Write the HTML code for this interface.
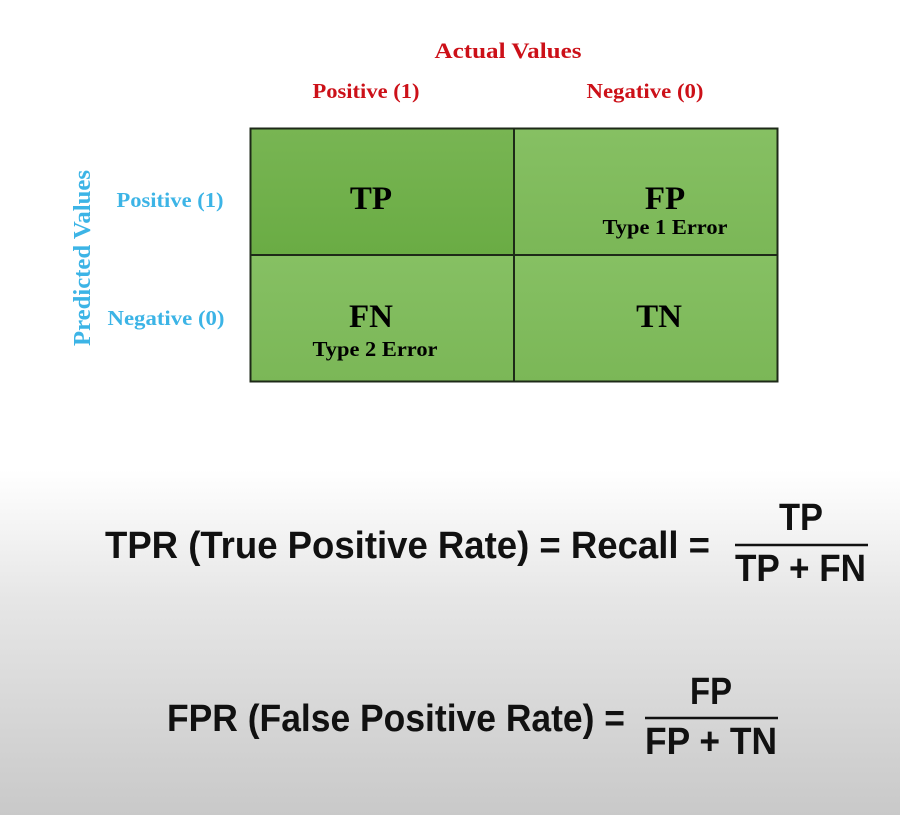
<!DOCTYPE html>
<html><head><meta charset="utf-8"><style>
html,body{margin:0;padding:0;width:900px;height:815px;overflow:hidden}
body{background:linear-gradient(to bottom,#fff 0,#fff 470px,#e6e6e6 600px,#c9c9c9 815px)}
svg{position:absolute;left:0;top:0}
.s{font-family:"Liberation Serif",serif;font-weight:bold}
.f{font-family:"Liberation Sans Narrow","Liberation Sans",sans-serif;font-weight:bold;fill:#111}
</style></head><body>
<svg width="900" height="815">
<defs>
<linearGradient id="g1" x1="0" y1="0" x2="0" y2="1"><stop offset="0" stop-color="#78b553"/><stop offset="1" stop-color="#6aac44"/></linearGradient>
<linearGradient id="g2" x1="0" y1="0" x2="0" y2="1"><stop offset="0" stop-color="#86c063"/><stop offset="1" stop-color="#7bb757"/></linearGradient>
</defs>
<text class="s" x="508" y="58" font-size="22" fill="#cc1018" text-anchor="middle" textLength="147" lengthAdjust="spacingAndGlyphs">Actual Values</text>
<text class="s" x="366" y="98" font-size="21" fill="#cc1018" text-anchor="middle" textLength="107" lengthAdjust="spacingAndGlyphs">Positive (1)</text>
<text class="s" x="645" y="98" font-size="21" fill="#cc1018" text-anchor="middle" textLength="117" lengthAdjust="spacingAndGlyphs">Negative (0)</text>
<text class="s" x="170" y="207" font-size="21" fill="#3cb4e6" text-anchor="middle" textLength="107" lengthAdjust="spacingAndGlyphs">Positive (1)</text>
<text class="s" x="166" y="325" font-size="21" fill="#3cb4e6" text-anchor="middle" textLength="117" lengthAdjust="spacingAndGlyphs">Negative (0)</text>
<text class="s" x="0" y="0" font-size="24" fill="#3cb4e6" text-anchor="middle" textLength="176" lengthAdjust="spacingAndGlyphs" transform="translate(90,258) rotate(-90)">Predicted Values</text>
<rect x="251" y="129" width="263" height="126" fill="url(#g1)"/>
<rect x="514" y="129" width="263" height="126" fill="url(#g2)"/>
<rect x="251" y="255" width="263" height="126" fill="url(#g2)"/>
<rect x="514" y="255" width="263" height="126" fill="url(#g2)"/>
<rect x="250.5" y="128.5" width="527" height="253" fill="none" stroke="#1e2a18" stroke-width="2"/>
<line x1="514" y1="128" x2="514" y2="382" stroke="#1e2a18" stroke-width="2"/>
<line x1="250" y1="255" x2="778" y2="255" stroke="#1e2a18" stroke-width="2"/>
<text class="s" x="371" y="209" font-size="33" text-anchor="middle">TP</text>
<text class="s" x="665" y="209" font-size="33" text-anchor="middle">FP</text>
<text class="s" x="665" y="234" font-size="21" text-anchor="middle" textLength="125" lengthAdjust="spacingAndGlyphs">Type 1 Error</text>
<text class="s" x="371" y="327" font-size="33" text-anchor="middle">FN</text>
<text class="s" x="375" y="356" font-size="21" text-anchor="middle" textLength="125" lengthAdjust="spacingAndGlyphs">Type 2 Error</text>
<text class="s" x="659" y="327" font-size="33" text-anchor="middle">TN</text>

<text class="f" x="105" y="558" font-size="38" textLength="605" lengthAdjust="spacingAndGlyphs">TPR (True Positive Rate) = Recall =</text>
<text class="f" x="801" y="530" font-size="38" text-anchor="middle" textLength="44" lengthAdjust="spacingAndGlyphs">TP</text>
<line x1="735" y1="545" x2="868" y2="545" stroke="#111" stroke-width="2.5"/>
<text class="f" x="735" y="581" font-size="38" textLength="131" lengthAdjust="spacingAndGlyphs">TP + FN</text>

<text class="f" x="167" y="731" font-size="38" textLength="458" lengthAdjust="spacingAndGlyphs">FPR (False Positive Rate) =</text>
<text class="f" x="711" y="704" font-size="38" text-anchor="middle" textLength="42" lengthAdjust="spacingAndGlyphs">FP</text>
<line x1="645" y1="718" x2="778" y2="718" stroke="#111" stroke-width="2.5"/>
<text class="f" x="645" y="754" font-size="38" textLength="132" lengthAdjust="spacingAndGlyphs">FP + TN</text>
</svg>
</body></html>
